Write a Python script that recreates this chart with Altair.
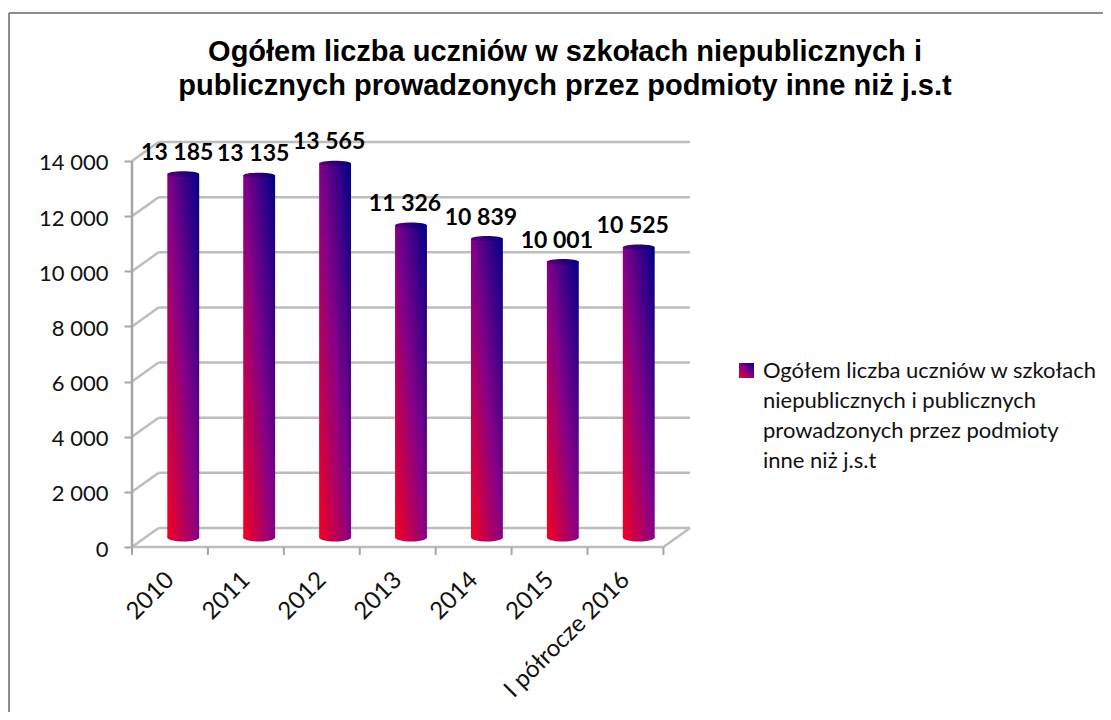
import altair as alt
import pandas as pd

categories = ["2010", "2011", "2012", "2013", "2014", "2015", "I półrocze 2016"]
values = [13185, 13135, 13565, 11326, 10839, 10001, 10525]
labels = ["13 185", "13 135", "13 565", "11 326", "10 839", "10 001", "10 525"]
y_ticks = [0, 2000, 4000, 6000, 8000, 10000, 12000, 14000]
title_lines = [
    "Ogółem liczba uczniów w szkołach niepublicznych i",
    "publicznych prowadzonych przez podmioty inne niż j.s.t",
]
legend_text = ("Ogółem liczba uczniów  w szkołach\nniepublicznych  i publicznych\n"
               "prowadzonych  przez podmioty\ninne niż j.s.t")

n = len(categories)
DX, DY = 0.35, 689
BAR_W = 0.42
GRAY = "#bdbdbd"
AXIS_GRAY = "#a6a6a6"
FONT = "Lato"

xs = alt.Scale(domain=[0, n + DX], nice=False, zero=False)
ys = alt.Scale(domain=[0, 14000 + DY], nice=False, zero=False)
cat_labels = "[" + ",".join(f"'{c}'" for c in categories) + "]"
x_axis = alt.Axis(
    values=[i + 0.5 for i in range(n)], labelExpr=f"{cat_labels}[datum.value-0.5]",
    grid=False, domain=False, ticks=False, labelAngle=-45, labelAlign="right", labelBaseline="middle",
    labelFont=FONT, labelFontSize=24, labelColor="#111111", labelPadding=29, labelOverlap=False,
    labelFlush=False, labelBound=False, labelLimit=400)
y_axis = alt.Axis(
    values=y_ticks, labelExpr="replace(format(datum.value, ','), ',', ' ')",
    grid=False, domain=False, tickSize=8, tickColor=AXIS_GRAY, tickWidth=2,
    labelFont=FONT, labelFontSize=22, labelColor="#111111", labelPadding=16, labelOverlap=False, labelOffset=2)
X = lambda f: alt.X(f, type="quantitative", scale=xs, title=None, axis=x_axis)
Y = lambda f: alt.Y(f, type="quantitative", scale=ys, title=None, axis=y_axis)

bars = pd.DataFrame({"cat": categories, "value": values, "label": labels})
bars["cx"] = [i + 0.5 + DX / 2 for i in range(n)]
bars["x0"] = bars.cx - BAR_W / 2
bars["x1"] = bars.cx + BAR_W / 2
bars["base"] = DY / 2
bars["top"] = bars.value + DY / 2

segs = []
for v in y_ticks:
    segs.append(dict(a=0, b=DX, c=v, d=v + DY))
    segs.append(dict(a=DX, b=n + DX, c=v + DY, d=v + DY))
segs.append(dict(a=0, b=n, c=0, d=0))
segs.append(dict(a=n, b=n + DX, c=0, d=DY))
segs = pd.DataFrame(segs)

grid = alt.Chart(segs).mark_rule(color=GRAY, strokeWidth=2.5).encode(
    x=X("a"), x2="b:Q", y=Y("c"), y2="d:Q")

front_y = alt.Chart(pd.DataFrame({"a": [0], "c": [0], "d": [14000]})).mark_rule(color=AXIS_GRAY, strokeWidth=2.5).encode(
    x=X("a"), y=Y("c"), y2="d:Q")
front_x = alt.Chart(pd.DataFrame({"a": list(range(n + 1))})).mark_rule(color=AXIS_GRAY, strokeWidth=2).encode(
    x=X("a"), y=alt.value(405), y2=alt.value(413))

bar_grad = alt.Gradient(gradient="linear", x1=0, y1=1, x2=1, y2=0, stops=[
    alt.GradientStop(offset=0, color="#f50020"),
    alt.GradientStop(offset=0.5, color="#850088"),
    alt.GradientStop(offset=1, color="#000088"),
])
bottom_grad = alt.Gradient(gradient="linear", x1=0, y1=0, x2=1, y2=0, stops=[
    alt.GradientStop(offset=0, color="#f0002c"),
    alt.GradientStop(offset=1, color="#8a0088"),
])
top_grad = alt.Gradient(gradient="linear", x1=0, y1=0, x2=1, y2=0, stops=[
    alt.GradientStop(offset=0, color="#5c0070"),
    alt.GradientStop(offset=1, color="#000078"),
])
ELLIPSE_B = "M-1,0 A1,0.25 0 1 1 1,0 A1,0.25 0 1 1 -1,0 Z"
ELLIPSE_T = "M-1,0 A1,0.17 0 1 1 1,0 A1,0.17 0 1 1 -1,0 Z"

bottoms = alt.Chart(bars).mark_point(shape=ELLIPSE_B, filled=True, size=1024, opacity=1, color=bottom_grad).encode(
    x=X("cx"), y=Y("base"))
columns = alt.Chart(bars).mark_rect(color=bar_grad).encode(
    x=X("x0"), x2="x1:Q", y=Y("base"), y2="top:Q")
tops = alt.Chart(bars).mark_point(shape=ELLIPSE_T, filled=True, size=1024, opacity=1, color=top_grad).encode(
    x=X("cx"), y=Y("top"))
value_text = alt.Chart(bars).mark_text(font=FONT, fontSize=23, fontWeight="bold", color="#000000",
                                       dx=-6, dy=-21, baseline="middle").encode(
    x=X("cx"), y=Y("top"), text="label:N")

legend_sym = alt.Chart(pd.DataFrame({"k": [1]})).mark_point(shape="square", filled=True, size=225, opacity=1, color=bar_grad).encode(
    x=alt.value(614.5), y=alt.value(228.5))
legend_lbl = alt.Chart(pd.DataFrame({"t": [legend_text]})).mark_text(
    font=FONT, fontSize=22, color="#111111", align="left", baseline="middle", lineBreak="\n", lineHeight=30).encode(
    x=alt.value(631), y=alt.value(228.5), text="t:N")

frame_l = alt.Chart(pd.DataFrame({"k": [1]})).mark_rule(color="#8c8c8c", strokeWidth=2).encode(
    x=alt.value(-123), y=alt.value(-129), y2=alt.value(600))
frame_t = alt.Chart(pd.DataFrame({"k": [1]})).mark_rule(color="#8c8c8c", strokeWidth=2).encode(
    y=alt.value(-129), x=alt.value(-123), x2=alt.value(1000))

chart = alt.layer(frame_l, frame_t, grid, front_y, front_x, bottoms, columns, tops, value_text,
                  legend_sym, legend_lbl).properties(
    width=558, height=405,
    padding={"left": 124, "top": 134, "right": 413, "bottom": 165},
    autosize=alt.AutoSizeParams(type="none"),
    title=alt.TitleParams(text=title_lines, font="Liberation Sans", fontSize=29, fontWeight="bold", color="#000000",
                          anchor="middle", dx=154, dy=93, lineHeight=34),
).configure_view(stroke=None)

chart.save("out.html", embed_options={"renderer": "svg", "actions": False})
